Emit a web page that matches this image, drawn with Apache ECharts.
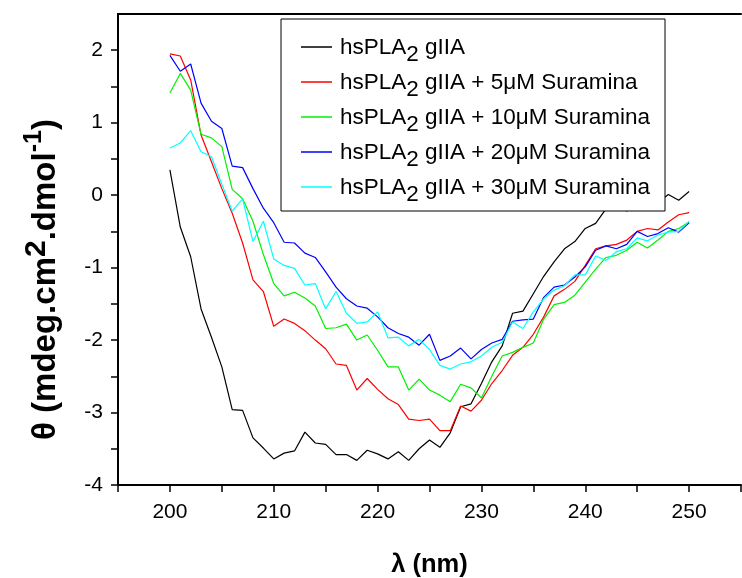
<!DOCTYPE html>
<html>
<head>
<meta charset="utf-8">
<script src="https://cdn.jsdelivr.net/npm/echarts@6/dist/echarts.min.js"></script>
<style>
  html, body { margin: 0; padding: 0; background: #fff; }
  #chart { width: 742px; height: 578px; }
</style>
</head>
<body>
<div id="chart"></div>
<script>
// 波长 (nm)
const wavelengths = [200, 201, 202, 203, 204, 205, 206, 207, 208, 209,
  210, 211, 212, 213, 214, 215, 216, 217, 218, 219,
  220, 221, 222, 223, 224, 225, 226, 227, 228, 229,
  230, 231, 232, 233, 234, 235, 236, 237, 238, 239,
  240, 241, 242, 243, 244, 245, 246, 247, 248, 249, 250];

// 各样品的CD信号
const hsPLA2 = [0.35, -0.44, -0.85, -1.57, -1.96, -2.37, -2.96, -2.97, -3.35, -3.49,
  -3.64, -3.56, -3.53, -3.27, -3.42, -3.44, -3.58, -3.58, -3.66, -3.52,
  -3.57, -3.64, -3.54, -3.66, -3.5, -3.38, -3.48, -3.28, -2.92, -2.88,
  -2.6, -2.3, -2.08, -1.63, -1.6, -1.36, -1.12, -0.92, -0.74, -0.64,
  -0.46, -0.39, -0.19, -0.14, -0.22, -0.08, -0.1, -0.1, 0.01, -0.07, 0.05];

const sur5 = [1.95, 1.92, 1.59, 0.83, 0.46, 0.09, -0.25, -0.66, -1.17, -1.33,
  -1.81, -1.71, -1.77, -1.87, -2.0, -2.12, -2.33, -2.35, -2.69, -2.53,
  -2.68, -2.81, -2.89, -3.09, -3.11, -3.09, -3.25, -3.25, -2.91, -2.98,
  -2.83, -2.6, -2.42, -2.21, -2.1, -1.92, -1.68, -1.39, -1.3, -1.19,
  -0.97, -0.74, -0.7, -0.68, -0.62, -0.5, -0.46, -0.48, -0.37, -0.27, -0.24];

const sur10 = [1.41, 1.68, 1.45, 0.84, 0.79, 0.67, 0.08, -0.05, -0.36, -0.82,
  -1.22, -1.39, -1.34, -1.42, -1.53, -1.84, -1.83, -1.78, -2.0, -1.93,
  -2.14, -2.37, -2.37, -2.69, -2.54, -2.69, -2.76, -2.85, -2.61, -2.66,
  -2.8, -2.5, -2.22, -2.17, -2.1, -2.04, -1.71, -1.51, -1.48, -1.38,
  -1.2, -1.02, -0.86, -0.83, -0.76, -0.65, -0.73, -0.62, -0.5, -0.46, -0.37];

const sur20 = [1.93, 1.71, 1.81, 1.27, 1.02, 0.92, 0.4, 0.38, 0.09, -0.18,
  -0.38, -0.65, -0.66, -0.8, -0.86, -1.06, -1.27, -1.43, -1.53, -1.56,
  -1.68, -1.83, -1.91, -1.96, -2.07, -1.92, -2.28, -2.22, -2.11, -2.26,
  -2.13, -2.04, -1.99, -1.74, -1.72, -1.71, -1.41, -1.27, -1.24, -1.13,
  -0.99, -0.76, -0.7, -0.74, -0.68, -0.5, -0.57, -0.53, -0.45, -0.51, -0.38];

const sur30 = [0.65, 0.72, 0.89, 0.6, 0.53, 0.15, -0.22, -0.05, -0.64, -0.36,
  -0.88, -0.97, -1.01, -1.24, -1.22, -1.57, -1.33, -1.63, -1.77, -1.75,
  -1.61, -1.97, -1.96, -2.08, -1.99, -2.13, -2.35, -2.4, -2.33, -2.3,
  -2.22, -2.1, -2.03, -1.75, -1.84, -1.61, -1.43, -1.31, -1.25, -1.1,
  -1.1, -0.84, -0.9, -0.78, -0.74, -0.59, -0.63, -0.55, -0.51, -0.5, -0.36];

const seriesNames = [
  'hsPLA2 gIIA',
  'hsPLA2 gIIA + 5μM Suramina',
  'hsPLA2 gIIA + 10μM Suramina',
  'hsPLA2 gIIA + 20μM Suramina',
  'hsPLA2 gIIA + 30μM Suramina'
];
const seriesColors = ['#000000', '#ff0000', '#00f000', '#0000ff', '#00ffff'];
const seriesData = [hsPLA2, sur5, sur10, sur20, sur30];

const FONT = "'Liberation Sans', Arial, sans-serif";

const chart = echarts.init(document.getElementById('chart'));

const option = {
  animation: false,
  backgroundColor: '#fff',
  grid: {
    left: 118, top: 14, right: 1, bottom: 93,
    outerBoundsMode: 'none',
    containLabel: false
  },
  legend: {
    orient: 'vertical',
    left: 281, top: 19,
    padding: [17, 15, 5, 20],
    itemGap: 5,
    itemWidth: 31,
    itemHeight: 1.5,
    icon: 'rect',
    selectedMode: false,
    backgroundColor: '#fff',
    borderColor: '#000',
    borderWidth: 1,
    z: 10,
    data: seriesNames,
    formatter: function (name) {
      return '{n|' + name.replace('PLA2', 'PLA}{s|2}{n|') + '}';
    },
    textStyle: {
      fontFamily: FONT,
      fontSize: 22.5,
      color: '#000',
      padding: [0, 0, 0, 3],
      rich: {
        n: { fontFamily: FONT, fontSize: 22.5, color: '#000', verticalAlign: 'top', lineHeight: 22 },
        s: { fontFamily: FONT, fontSize: 22.5, color: '#000', verticalAlign: 'top', lineHeight: 22, padding: [7, 0, 0, 0] }
      }
    }
  },
  xAxis: [{
    type: 'value',
    min: 195, max: 255, interval: 5,
    name: 'λ (nm)',
    nameLocation: 'middle',
    nameGap: 67,
    nameTextStyle: { fontFamily: FONT, fontSize: 25.5, fontWeight: 'bold', color: '#000' },
    axisLine: { show: true, onZero: false, lineStyle: { color: '#000', width: 2 } },
    axisTick: { show: true, inside: false, length: 7, lineStyle: { color: '#000', width: 1.5 } },
    axisLabel: {
      fontFamily: FONT, fontSize: 21, color: '#000', margin: 17,
      formatter: function (v) { return v % 10 === 0 && v >= 200 && v <= 250 ? String(v) : ''; }
    },
    splitLine: { show: false }
  }, {
    // 顶部边框线
    type: 'value',
    position: 'top',
    min: 195, max: 255, interval: 5,
    axisLine: { show: true, onZero: false, lineStyle: { color: '#000', width: 2 } },
    axisTick: { show: false },
    axisLabel: { show: false },
    splitLine: { show: false }
  }],
  yAxis: {
    type: 'value',
    min: -4, max: 2.5, interval: 0.5,
    name: '{t|θ (mdeg.cm}{p|2}{t|.dmol}{q|-1}{t|)}',
    nameLocation: 'middle',
    nameGap: 56,
    nameTextStyle: {
      fontFamily: FONT, fontWeight: 'bold', color: '#000',
      padding: [0, 60, 0, 0],
      rich: {
        t: { fontFamily: FONT, fontSize: 33, fontWeight: 'bold', color: '#000', verticalAlign: 'bottom', lineHeight: 40 },
        p: { fontFamily: FONT, fontSize: 30, fontWeight: 'bold', color: '#000', verticalAlign: 'top', lineHeight: 40 },
        q: { fontFamily: FONT, fontSize: 25, fontWeight: 'bold', color: '#000', verticalAlign: 'top', lineHeight: 40 }
      }
    },
    axisLine: { show: true, onZero: false, lineStyle: { color: '#000', width: 2 } },
    axisTick: { show: true, inside: false, length: 7, lineStyle: { color: '#000', width: 1.5 } },
    axisLabel: {
      fontFamily: FONT, fontSize: 21, color: '#000', margin: 15,
      showMaxLabel: false,
      formatter: function (v) { return Number.isInteger(v) ? String(v) : ''; }
    },
    splitLine: { show: false }
  },
  series: seriesNames.map(function (name, i) {
    return {
      name: name,
      type: 'line',
      xAxisIndex: 0,
      showSymbol: false,
      symbol: 'none',
      color: seriesColors[i],
      lineStyle: { color: seriesColors[i], width: 1.2 },
      data: wavelengths.map(function (w, k) { return [w, seriesData[i][k]]; }),
      z: 2
    };
  })
};

chart.setOption(option);
</script>
</body>
</html>
